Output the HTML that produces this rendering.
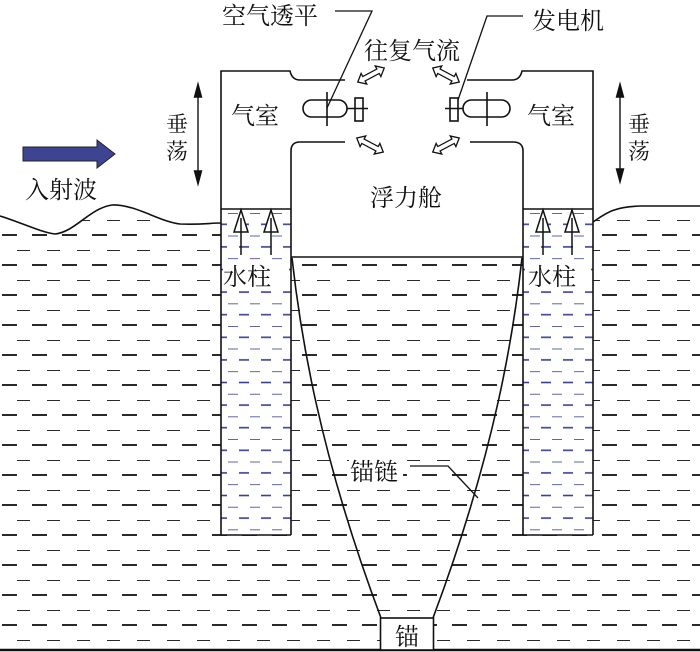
<!DOCTYPE html>
<html><head><meta charset="utf-8"><style>
html,body{margin:0;padding:0;background:#fff}
svg{display:block}
text{font-family:"Liberation Serif","Noto Serif CJK SC","Noto Sans CJK SC",serif;font-size:24px;fill:#111}
</style></head><body>
<svg width="700" height="652" viewBox="0 0 700 652" xmlns="http://www.w3.org/2000/svg">
<defs>
<pattern id="bd" x="0" y="220" width="30" height="30" patternUnits="userSpaceOnUse">
<line x1="17" y1="0" x2="32" y2="0" stroke="#111" stroke-width="1.8"/>
<line x1="2" y1="15" x2="17" y2="15" stroke="#111" stroke-width="1.8"/>
</pattern>
<pattern id="bl" x="222" y="213" width="22" height="22.6" patternUnits="userSpaceOnUse">
<line x1="6" y1="0" x2="16" y2="0" stroke="#3a3f8f" stroke-width="1.6"/>
<line x1="-5" y1="11.3" x2="5" y2="11.3" stroke="#3a3f8f" stroke-width="1.6"/>
<line x1="17" y1="11.3" x2="27" y2="11.3" stroke="#3a3f8f" stroke-width="1.6"/>
</pattern>
<pattern id="bl2" x="524" y="213" width="22" height="22.6" patternUnits="userSpaceOnUse">
<line x1="6" y1="0" x2="16" y2="0" stroke="#3a3f8f" stroke-width="1.6"/>
<line x1="-5" y1="11.3" x2="5" y2="11.3" stroke="#3a3f8f" stroke-width="1.6"/>
<line x1="17" y1="11.3" x2="27" y2="11.3" stroke="#3a3f8f" stroke-width="1.6"/>
</pattern>
<g id="dar"><polygon points="-15,0 -8,-6 -8,-2.5 8,-2.5 8,-6 15,0 8,6 8,2.5 -8,2.5 -8,6" fill="#fff" stroke="#111" stroke-width="1.3"/></g>
<g id="uar"><line x1="0" y1="22" x2="0" y2="45" stroke="#111" stroke-width="1.5"/><polygon points="0,0 -7,22 7,22" fill="#fff" stroke="#111" stroke-width="1.5"/><line x1="0" y1="8" x2="0" y2="22" stroke="#111" stroke-width="1.5"/></g>
</defs>

<path d="M0,216 C20,222 40,232 55,234 C75,232 90,208 112,205 C135,204 160,222 180,224 C200,225 210,223 221,223 L221,535 L593,535 L593,222 C605,214 612,207 640,206 L700,206 L700,652 L0,652 Z" fill="url(#bd)"/>
<rect x="291" y="258" width="232" height="277" fill="url(#bd)"/>
<rect x="221" y="209" width="70" height="326" fill="#fff"/>
<rect x="221" y="209" width="70" height="326" fill="url(#bl)"/>
<rect x="523" y="209" width="70" height="326" fill="#fff"/>
<rect x="523" y="209" width="70" height="326" fill="url(#bl2)"/>
<rect x="223" y="262" width="66" height="28" fill="#fff"/>
<rect x="525" y="262" width="66" height="28" fill="#fff"/>
<rect x="349" y="457" width="54" height="28" fill="#fff"/>

<g fill="none" stroke="#111" stroke-width="1.6">
<path d="M0,216 C20,222 40,232 55,234 C75,232 90,208 112,205 C135,204 160,222 180,224 C200,225 210,223 221,223"/>
<path d="M593,222 C605,214 612,207 640,206 L700,206"/>
<path d="M221,535 L221,71 L290,71 Q292,80 300,80 L345,80"/>
<path d="M467,80 L512,80 Q520,80 522,71 L593,71 L593,535"/>
<path d="M345,142 L300,142 Q291,142 291,151 L291,535 M221,535 L291,535"/>
<path d="M470,142 L513,142 Q523,142 523,151 L523,535 M523,535 L593,535"/>
<line x1="221" y1="209" x2="291" y2="209"/>
<line x1="523" y1="209" x2="593" y2="209"/>
<line x1="291" y1="257" x2="523" y2="257"/>
<path d="M292,258 C300,330 318,450 381,618"/>
<path d="M522,258 C514,330 496,450 433,618"/>
<rect x="303" y="100" width="44" height="17" rx="8.5"/>
<line x1="327" y1="92" x2="327" y2="126"/>
<rect x="355" y="98" width="8" height="23"/>
<line x1="347" y1="108.5" x2="368" y2="108.5"/>
<rect x="463" y="100" width="47" height="17" rx="8.5"/>
<line x1="487" y1="92" x2="487" y2="126"/>
<rect x="450" y="98" width="8" height="23"/>
<line x1="445" y1="108.5" x2="463" y2="108.5"/>
<path d="M335,11 L372,11 L327,108" stroke-width="1.3"/>
<path d="M523,16 L487,16 L458,100" stroke-width="1.3"/>
<path d="M410,466 L448,466 L478,498" stroke-width="1.3"/>
</g>
<line x1="0" y1="650" x2="700" y2="650" stroke="#111" stroke-width="2.5"/>
<rect x="380.5" y="618" width="53" height="32" fill="#fff" stroke="#111" stroke-width="1.6"/>

<use href="#dar" transform="translate(371,75) rotate(-28)"/>
<use href="#dar" transform="translate(446,75) rotate(28)"/>
<use href="#dar" transform="translate(370,145) rotate(28)"/>
<use href="#dar" transform="translate(446,145) rotate(-28)"/>
<use href="#uar" transform="translate(241,210)"/>
<use href="#uar" transform="translate(271,210)"/>
<use href="#uar" transform="translate(543,210)"/>
<use href="#uar" transform="translate(572,210)"/>

<g stroke="#111" stroke-width="1.4" fill="#111">
<line x1="198" y1="90" x2="198" y2="178"/>
<polygon points="198,84 194.5,97 201.5,97"/>
<polygon points="198,184 194.5,171 201.5,171"/>
<line x1="620" y1="90" x2="620" y2="176"/>
<polygon points="620,84 616.5,97 623.5,97"/>
<polygon points="620,182 616.5,169 623.5,169"/>
</g>
<polygon points="23,147 97,147 97,140 115,154 97,168 97,161 23,161" fill="#3d4592" stroke="#222" stroke-width="1"/>

<text x="222" y="24">空气透平</text>
<text x="532" y="29">发电机</text>
<text x="364" y="59">往复气流</text>
<text x="231" y="124">气室</text>
<text x="527" y="124">气室</text>
<text x="166" y="132" style="font-size:22px">垂</text>
<text x="166" y="159" style="font-size:22px">荡</text>
<text x="628" y="132" style="font-size:22px">垂</text>
<text x="628" y="159" style="font-size:22px">荡</text>
<text x="25" y="198">入射波</text>
<text x="370" y="206">浮力舱</text>
<text x="223" y="285">水柱</text>
<text x="528" y="285">水柱</text>
<text x="350" y="480">锚链</text>
<text x="395" y="645">锚</text>
</svg>
</body></html>
